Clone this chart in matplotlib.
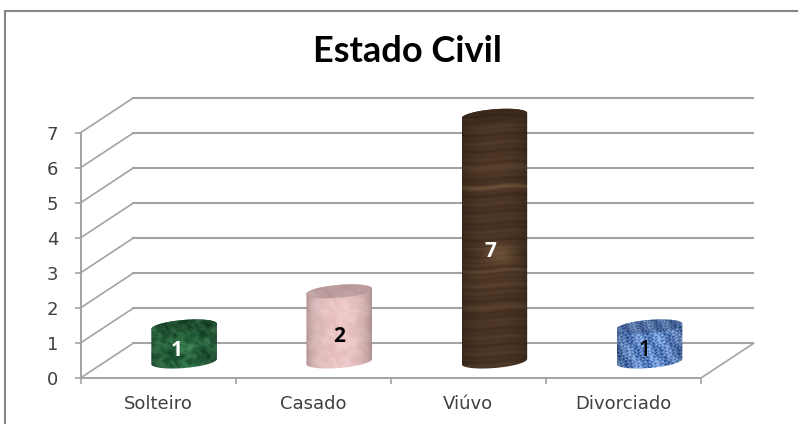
import numpy as np
import matplotlib
matplotlib.use("Agg")
import matplotlib.pyplot as plt
from matplotlib.lines import Line2D
from matplotlib.path import Path
from matplotlib.patches import PathPatch

categories = ["Solteiro", "Casado", "Viúvo", "Divorciado"]
values = [1, 2, 7, 1]
label_colors = ["white", "black", "white", "black"]
label_weights = ["bold", "bold", "bold", "semibold"]
label_shift_px = [(-7, -7), (0, -10), (-4, -13), (-5, -7)]
y_ticks = list(range(8))
title = "Estado Civil"

W, H = 798, 424
GRID = "#a3a3a3"
TEXT = "#404040"

fig = plt.figure(figsize=(W / 100, H / 100), dpi=100, facecolor="white")
left, right, top, bottom = 80.5, 701.0, 132.7, 378.0
ax = fig.add_axes([left / W, 1 - bottom / H, (right - left) / W, (bottom - top) / H])
ax.set_xlim(0, 4)
ax.set_ylim(0, 7)
ax.patch.set_visible(False)

ux = (right - left) / 4        # px per category
uy = (bottom - top) / 7        # px per value
dx = 52.5 / ux                 # depth offset, category units
dy = 34.6 / uy                 # depth offset, value units

# chart frame (open on the right / bottom, as cropped in the source)
for xs, ys in [((5, 5), (11, H)), ((5, W), (11, 11))]:
    fig.add_artist(Line2D([x / W for x in xs], [1 - y / H for y in ys],
                          color="#858585", lw=1.5))

# walls
for v in y_ticks:
    ax.plot([0, dx], [v, v + dy], color=GRID, lw=1.2, clip_on=False, zorder=1)
    ax.plot([dx, 4 + dx], [v + dy, v + dy], color=GRID, lw=1.5, clip_on=False, zorder=1)
ax.plot([4, 4 + dx], [0, dy], color=GRID, lw=1.2, clip_on=False, zorder=1)

for s in ("top", "right"):
    ax.spines[s].set_visible(False)
for s in ("left", "bottom"):
    ax.spines[s].set_color(GRID)
    ax.spines[s].set_linewidth(1.4)

ax.set_yticks(y_ticks)
ax.set_yticklabels([str(v) for v in y_ticks], fontsize=13, color=TEXT)
ax.tick_params(axis="y", length=4, width=1.2, color=GRID, pad=12)
ax.set_xticks(range(5))
ax.set_xticklabels([])
ax.tick_params(axis="x", which="major", length=4.2, width=1.2, color=GRID)
ax.set_xticks([i + 0.5 for i in range(4)], minor=True)
ax.set_xticklabels(categories, minor=True, fontsize=13, color=TEXT)
ax.tick_params(axis="x", which="minor", length=0, pad=12)


# deterministic surface patterns (domain-warped sines, no sampled data)
def marble(xx, yy):
    wx = xx + 4.0 * np.sin(yy * 0.23 + 0.7) + 2.5 * np.sin(yy * 0.61 + 2.1)
    wy = yy + 4.0 * np.sin(xx * 0.19 + 1.9) + 2.5 * np.sin(xx * 0.53 + 0.3)
    n = (np.sin(wx * 0.21 + 0.4) + np.sin(wy * 0.27 + 1.1)
         + 0.7 * np.sin((wx + 0.7 * wy) * 0.47) + 0.5 * np.sin((wx - 1.3 * wy) * 0.83)
         + 0.3 * np.sin((1.7 * wx + wy) * 1.37))
    return n / 3.0


def tex_green(xx, yy):
    n = marble(xx, yy)[..., None]
    return np.array([0.15, 0.37, 0.23]) + n * np.array([0.10, 0.15, 0.10])


def tex_pink(xx, yy):
    n = marble(xx * 0.8, yy * 0.8)[..., None]
    return np.array([0.86, 0.72, 0.72]) + n * np.array([0.035, 0.05, 0.05])


def tex_brown(xx, yy):
    bend = 1.5 * np.sin(xx * 0.08 + 0.5)
    y = yy + bend
    bands = (0.35 * np.sin(y * 0.42) + 0.3 * np.sin(y * 1.13 + 0.8) + 0.25 * np.sin(y * 2.3))
    glow = np.zeros_like(yy)
    for c, w, a in [(184, 2.5, 1.0), (204, 2.5, 0.8), (100, 2, 0.9), (86, 2, 0.8), (64, 2, .5)]:
        glow += a * np.exp(-((y - c) / w) ** 2)
    glow += 1.3 * np.exp(-((yy - 117) / 9) ** 2 - ((xx - 38) / 16) ** 2)
    n = (bands * 0.45 + glow)[..., None]
    return np.array([0.27, 0.19, 0.13]) + n * np.array([0.10, 0.085, 0.06])


def tex_blue(xx, yy):
    wx = xx + 1.5 * np.sin(yy * 0.5)
    wy = yy + 1.5 * np.sin(xx * 0.37)
    n = (np.sin(wx * 1.45) * np.sin(wy * 0.95) + 0.6 * np.sin(wy * 1.9 + np.sin(wx * 0.7))
         + 0.5 * np.sin(wx * 0.31 + wy * 0.23))[..., None]
    return np.array([0.36, 0.50, 0.73]) + n * np.array([0.17, 0.17, 0.15])


textures = [tex_green, tex_pink, tex_brown, tex_blue]

offset = 0.668     # bar centre inside its category
half_w = 0.2115    # half bar width, category units
base = 0.47        # floor position of the bar
v_scale = 1.002
cap_b = 6.5 / uy
tilt = 2.6 / uy


def arc(cx, cy, t):
    return np.c_[cx + half_w * np.cos(t), cy + cap_b * np.sin(t) + tilt * np.cos(t)]


for i, (v, tex) in enumerate(zip(values, textures)):
    cx = i + offset
    ctop = base + v * v_scale
    y0, y1 = base - cap_b - tilt, ctop + cap_b + tilt
    nx = 132
    ny = int((y1 - y0) * uy * 2)
    xs = np.linspace(0, 66, nx)
    ys = np.linspace(0, (y1 - y0) * uy, ny)
    xx, yy = np.meshgrid(xs, ys)
    u = np.linspace(-1, 1, nx)
    shade = (0.72 + 0.36 * np.sqrt(1 - 0.96 * u ** 2))[None, :, None]

    side = np.clip(tex(xx, yy) * shade, 0, 1)
    outline = np.vstack([arc(cx, base, np.linspace(np.pi, 2 * np.pi, 50)),
                         arc(cx, ctop, np.linspace(0, np.pi, 50))])
    ext = (cx - half_w, cx + half_w, y0, y1)
    im = ax.imshow(side, extent=ext, origin="lower", aspect="auto",
                   interpolation="bilinear", zorder=3)
    im.set_clip_box(fig.bbox)
    im.set_clip_path(PathPatch(Path(outline), transform=ax.transData))

    cap = np.clip(tex(xx * 1.2 + 5, yy * 1.2 + 3) * 0.86, 0, 1)
    im2 = ax.imshow(cap, extent=ext, origin="lower", aspect="auto",
                    interpolation="bilinear", zorder=4)
    im2.set_clip_box(fig.bbox)
    im2.set_clip_path(PathPatch(Path(arc(cx, ctop, np.linspace(0, 2 * np.pi, 90))),
                                transform=ax.transData))

    sx, sy = label_shift_px[i]
    ax.annotate(str(v), xy=(cx, base + v * v_scale / 2), xytext=(sx * 0.72, sy * 0.72),
                textcoords="offset points", ha="center", va="center", fontsize=15,
                color=label_colors[i], fontweight=label_weights[i],
                family="Open Sans", zorder=6)

ax.set_xlim(0, 4)
ax.set_ylim(0, 7)
fig.text(407 / W, 1 - 51 / H, title, ha="center", va="center", fontsize=26,
         fontweight="bold", family="Lato", color="black")

fig.savefig("out.png", dpi=100, facecolor="white")
